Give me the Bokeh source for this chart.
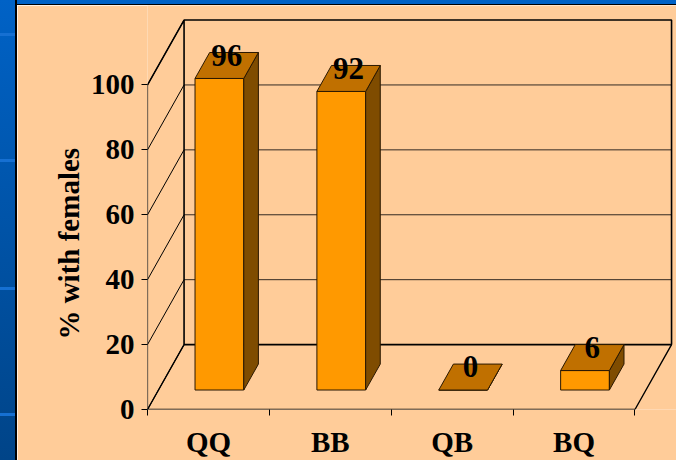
from bokeh.plotting import figure
from bokeh.models import FixedTicker, Div
from bokeh.layouts import row, column
from bokeh.embed import file_html
from bokeh.resources import INLINE
from bokeh.core.properties import value

# ---- data ----
categories = ["QQ", "BB", "QB", "BQ"]
pct_with_females = [96, 92, 0, 6]
y_ticks = [0, 20, 40, 60, 80, 100]
y_label = "% with females"

# ---- geometry (data units) ----
N = len(categories)
YMAX = 100
DX, DY = 0.3, 20              # floor depth offset
BAR_W = 0.4
BAR_X_OFF, BAR_Y0 = 0.09, 6   # bar front face position inside depth
BAR_DX, BAR_DY = 0.12, 8      # bar depth
LABEL_UP = 7.2                # label baseline above bar front top

# ---- page layout (pixels) ----
PAGE_W, PAGE_H = 676, 460
STRIP_W, STRIP_H = 17, 5
FW, FH = PAGE_W - STRIP_W, PAGE_H - STRIP_H
ML, MB = 130, 49
PX_X, PX_Y = 121.87, 3.2616   # pixels per unit

PEACH = "#FFCC99"
FRONT = "#FF9900"
TOP = "#C07000"
SIDE = "#7F4C00"
EDGE = "#2a1800"
FONT = "Liberation Serif"

p = figure(width=FW, height=FH,
           x_range=(0, (FW - ML) / PX_X), y_range=(0, (FH - MB) / PX_Y),
           output_backend="svg", toolbar_location=None,
           min_border_left=ML, min_border_right=0, min_border_top=0,
           min_border_bottom=MB)
p.background_fill_color = PEACH
p.border_fill_color = PEACH
p.outline_line_color = None
p.grid.visible = False

# ---- walls ----
gv = [v for v in y_ticks if 0 < v < YMAX]
p.segment(x0=[DX] * len(gv), y0=[DY + v for v in gv], x1=[N + DX] * len(gv),
          y1=[DY + v for v in gv], line_color="#332a22", line_width=1)
p.segment(x0=[0] * len(y_ticks), y0=y_ticks, x1=[DX] * len(y_ticks),
          y1=[DY + v for v in y_ticks], line_color="black", line_width=1)
p.line(x=[0, DX, N + DX, N + DX, DX, DX], y=[YMAX, DY + YMAX, DY + YMAX, DY, DY, DY + YMAX],
       line_color="black", line_width=1.6)
p.line(x=[0, 0], y=[0, YMAX], line_color="black", line_width=1.2)
p.line(x=[DX, 0, N, N + DX], y=[DY, 0, 0, DY], line_color="black", line_width=1.4)

# ---- bars ----
fx, fy, tx, ty, sx, sy = [], [], [], [], [], []
lx, ly, lt = [], [], []
for i, v in enumerate(pct_with_females):
    c = i + 0.5 + BAR_X_OFF
    x0, x1 = c - BAR_W / 2, c + BAR_W / 2
    y0, y1 = BAR_Y0, BAR_Y0 + v
    fx.append([x0, x1, x1, x0]); fy.append([y0, y0, y1, y1])
    sx.append([x1, x1 + BAR_DX, x1 + BAR_DX, x1]); sy.append([y0, y0 + BAR_DY, y1 + BAR_DY, y1])
    tx.append([x0, x1, x1 + BAR_DX, x0 + BAR_DX]); ty.append([y1, y1, y1 + BAR_DY, y1 + BAR_DY])
    lx.append(c + BAR_DX / 2); ly.append(y1 + LABEL_UP); lt.append(str(v))

p.patches(xs=fx, ys=fy, fill_color=FRONT, line_color=EDGE, line_width=1)
p.patches(xs=sx, ys=sy, fill_color=SIDE, line_color=EDGE, line_width=1)
p.patches(xs=tx, ys=ty, fill_color=TOP, line_color=EDGE, line_width=1)
p.text(x=lx, y=ly, text=lt, text_font=value(FONT), text_font_style="bold",
       text_font_size="31px", text_align="center", text_baseline="alphabetic",
       text_color="black")

# ---- axes ----
ya = p.yaxis[0]
ya.ticker = FixedTicker(ticks=y_ticks)
ya.axis_line_color = None
ya.major_tick_out = 6
ya.major_tick_in = 0
ya.major_tick_line_color = "black"
ya.minor_tick_line_color = None
ya.major_label_text_font = FONT
ya.major_label_text_font_style = "bold"
ya.major_label_text_font_size = "29px"
ya.major_label_text_color = "black"
ya.major_label_standoff = 7
ya.axis_label = y_label + "\u00a0" * 10
ya.axis_label_text_font = FONT
ya.axis_label_text_font_style = "bold"
ya.axis_label_text_font_size = "29px"
ya.axis_label_text_color = "black"
ya.axis_label_standoff = 3

xa = p.xaxis[0]
xa.ticker = FixedTicker(ticks=[i + 0.5 for i in range(N)], minor_ticks=list(range(N + 1)))
xa.major_label_overrides = {i + 0.5: c for i, c in enumerate(categories)}
xa.axis_line_color = None
xa.major_tick_line_color = None
xa.major_tick_out = 6
xa.major_tick_in = 0
xa.minor_tick_out = 6
xa.minor_tick_in = 0
xa.minor_tick_line_color = "black"
xa.major_label_text_font = FONT
xa.major_label_text_font_style = "bold"
xa.major_label_text_font_size = "29px"
xa.major_label_text_color = "black"
xa.major_label_standoff = 10

# ---- blue frame strips ----
lines = []
for y in (33, 159, 287, 413):
    lines += [f"transparent {y}px", f"#1670d2 {y}px", f"#1670d2 {y + 3}px", f"transparent {y + 3}px"]
left_strip = Div(text="", width=STRIP_W, height=PAGE_H, styles={
    "background-image": (
        "linear-gradient(to right, transparent 15.5px, #000 15.5px), "
        "linear-gradient(to bottom, transparent 0px, " + ", ".join(lines) + ", transparent 460px), "
        "linear-gradient(to bottom, #0062c6, #004488)"),
    "margin": "0", "padding": "0"})
top_strip = Div(text="", width=FW, height=STRIP_H, styles={
    "background-image": "linear-gradient(to bottom, #0062c6 3.6px, #000 3.6px)",
    "margin": "0", "padding": "0"})

layout = row(left_strip, column(top_strip, p))
open("out.html", "w").write(file_html(layout, INLINE))
